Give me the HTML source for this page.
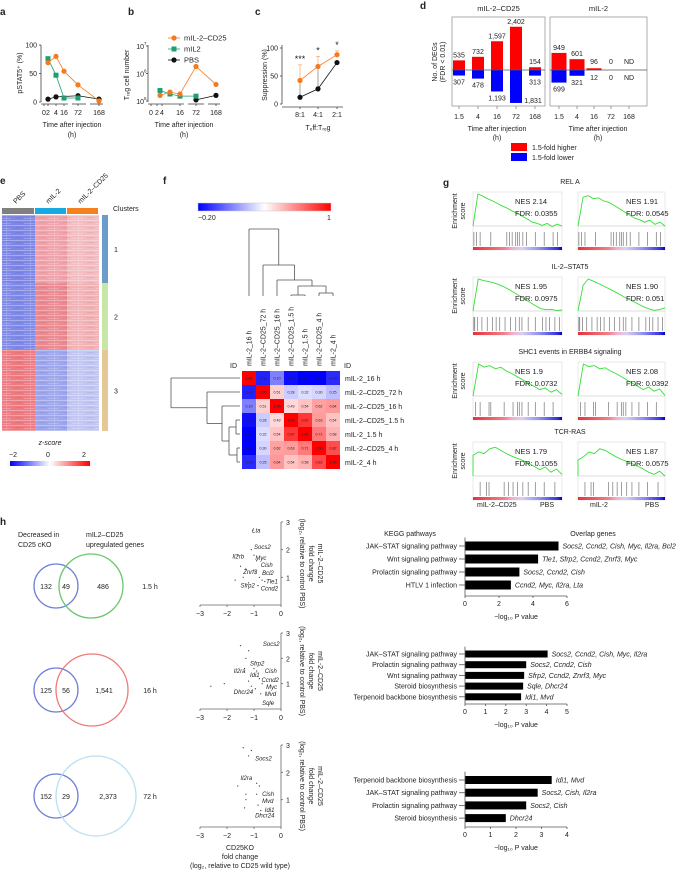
<!DOCTYPE html>
<html><head><meta charset="utf-8">
<style>
html,body{margin:0;padding:0;background:#fff;}
svg{display:block;font-family:"Liberation Sans",Arial,sans-serif;}
text{fill:#222;}
</style></head>
<body>
<svg id="fig" width="685" height="872" viewBox="0 0 685 872" xmlns="http://www.w3.org/2000/svg">
<defs>
<linearGradient id="gsea" x1="0" x2="1" y1="0" y2="0">
<stop offset="0" stop-color="#e8303a"/><stop offset="0.35" stop-color="#f08088"/><stop offset="0.45" stop-color="#f2b0d0"/><stop offset="0.55" stop-color="#d8d0f0"/><stop offset="0.75" stop-color="#8f8ff0"/><stop offset="0.95" stop-color="#3030e0"/><stop offset="1" stop-color="#0000c0"/>
</linearGradient>
<linearGradient id="corrbar" x1="0" x2="1"><stop offset="0" stop-color="#0000ff"/><stop offset="0.5" stop-color="#ffffff"/><stop offset="1" stop-color="#ff0000"/></linearGradient>
<linearGradient id="zbar" x1="0" x2="1"><stop offset="0" stop-color="#0000ff"/><stop offset="0.5" stop-color="#ffffff"/><stop offset="1" stop-color="#ff0000"/></linearGradient>
<pattern id="rowtex" width="24" height="5" patternUnits="userSpaceOnUse">
<rect x="0" y="0" width="24" height="1" fill="#fff" opacity="0.3"/>
<rect x="0" y="3" width="11" height="1" fill="#fff" opacity="0.2"/>
<rect x="6" y="0" width="1" height="5" fill="#fff" opacity="0.15"/>
<rect x="15" y="2" width="7" height="1" fill="#000" opacity="0.06"/>
</pattern>
</defs>
<g id="A"></g>
<g id="B"></g>
<g id="C"></g>
<g id="D"></g>
<g id="E"></g>
<g id="F"></g>
<g id="G"></g>
<g id="H"></g>
</svg>
<script>
// ---------- data ----------
const timeLabels=['0','2','4','16','72','168'];
const aCD25=[null,69,80,54,30,2];
const aIL2=[null,76,47,7,7,null];
const aPBS=[null,5,9,null,11,5];
const aTicks=[0,50,100];
const bCD25=[null,1.6e5,2.1e5,1.8e5,1.8e6,4e5];
const bIL2=[null,2.4e5,1.8e5,1.5e5,1.5e5,null];
const bPBS=[null,null,null,null,1.1e5,1.6e5];
const cCats=['8:1','4:1','2:1'];
const cCD25=[42,67,88];
const cCD25err=[70,85,95];
const cPBS=[12,27,74];
const cPBSerr=[37,62,78];
const cStars=['***','*','*'];
const dCats=['1.5','4','16','72','168'];
const dUpCD25=[535,732,1597,2402,154];
const dDownCD25=[307,478,1193,1831,313];
const dUpIL2=[949,601,96,0,null];
const dDownIL2=[699,321,12,0,null];
const fLabels=['mIL-2_16 h','mIL-2–CD25_72 h','mIL-2–CD25_16 h','mIL-2–CD25_1.5 h','mIL-2_1.5 h','mIL-2–CD25_4 h','mIL-2_4 h'];
const fMatrix=[
[1.00,-0.12,0.10,-0.17,-0.20,-0.20,-0.10],
[-0.12,1.00,0.51,0.28,0.32,0.30,0.25],
[0.10,0.51,1.00,0.49,0.54,0.62,0.64],
[-0.17,0.28,0.49,1.00,0.87,0.63,0.54],
[-0.20,0.32,0.54,0.87,1.00,0.71,0.58],
[-0.20,0.30,0.62,0.63,0.71,1.00,0.82],
[-0.10,0.25,0.64,0.54,0.58,0.82,1.00]];
const gTitles=['REL A','IL-2–STAT5','SHC1 events in ERBB4 signaling','TCR-RAS'];
const gNES=[['2.14','1.91'],['1.95','1.90'],['1.9','2.08'],['1.79','1.87']];
const gFDR=[['0.0355','0.0545'],['0.0975','0.051'],['0.0732','0.0392'],['0.1055','0.0575']];
const esRelA_L=[0,1,0.93,0.85,0.78,0.7,0.62,0.55,0.46,0.4,0.3,0.22,0.12,0.08,0.02,0.08,-0.02,0.06,0.0];
const esRelA_R=[0,0.9,0.95,0.85,0.88,0.78,0.74,0.65,0.55,0.45,0.35,0.25,0.2,0.12,0.18,0.05,0.12,0.0];
const esStat5_L=[0,1,0.95,0.92,0.88,0.82,0.75,0.66,0.56,0.46,0.36,0.26,0.16,0.07,0.04,0.05,0.02,0.03];
const esStat5_R=[0,0.8,1,0.93,0.86,0.78,0.7,0.62,0.53,0.44,0.36,0.28,0.2,0.12,0.06,0.02,0.05,0.1];
const esShc_L=[0,1,0.9,0.95,0.85,0.9,0.78,0.7,0.6,0.5,0.4,0.3,0.2,0.25,0.12,0.2,0.05];
const esShc_R=[0,1,0.92,0.95,0.85,0.88,0.78,0.7,0.6,0.5,0.4,0.3,0.2,0.28,0.15,0.22,0.02];
const esTcr_L=[0.65,0.75,0.7,0.85,0.9,0.8,0.7,0.62,0.55,0.48,0.4,0.3,0.2,0.28,0.12,0.22,0.05];
const esTcr_R=[0.5,0.6,0.75,0.7,0.85,0.8,0.7,0.6,0.52,0.45,0.38,0.3,0.22,0.12,0.05,0.15,0.0];
const barcode1=[0.01,0.04,0.08,0.2,0.38,0.41,0.44,0.48,0.5,0.52,0.56,0.6,0.7,0.8,0.9,0.95];
const barcode2=[0.01,0.02,0.05,0.1,0.16,0.22,0.26,0.3,0.36,0.42,0.48,0.52,0.55,0.62,0.7,0.78,0.82,0.86,0.92,0.97];
const barcode3=[0.03,0.08,0.18,0.2,0.35,0.45,0.5,0.52,0.55,0.62,0.7,0.8,0.9];
const barcode4=[0.08,0.15,0.18,0.35,0.4,0.45,0.5,0.56,0.62,0.7,0.8,0.92];
const vennDec=[132,125,152];
const vennOverlap=[49,56,29];
const vennUp=['486','1,541','2,373'];
const vennTimes=['1.5 h','16 h','72 h'];
const sc1x=[-1.1,-1.0,-0.9,-1.6,-1.3,-0.95,-0.8,-0.7,-1.4,-1.2,-0.6,-1.7,-1.5,-1.05,-0.85];
const sc1y=[2.0,1.8,1.6,1.8,1.3,1.2,1.0,0.9,1.0,0.8,0.85,0.9,1.4,2.7,0.7];
const sc1genes=['Lta','Socs2','Il2rb','Myc','Cish','Znrf3','Bcl2','Tle1','Sfrp2','Ccnd2'];
const sc1gx=[-1.07,-1.0,-1.8,-0.95,-0.75,-1.4,-0.7,-0.55,-1.5,-0.75];
const sc1gy=[2.7,2.1,1.75,1.7,1.45,1.2,1.15,0.85,0.7,0.6];
const sc2x=[-1.5,-1.2,-1.3,-1.0,-0.9,-1.2,-0.8,-0.7,-1.1,-0.95,-2.6,-2.1,-0.75,-1.35];
const sc2y=[2.5,2.3,2.0,1.6,1.5,1.1,1.2,1.0,0.9,0.8,0.9,1.0,0.6,1.6];
const sc2genes=['Socs2','Sfrp2','Il2ra','Cish','Idi1','Ccnd2','Myc','Dhcr24','Mvd','Sqle'];
const sc2gx=[-0.67,-1.15,-1.75,-0.6,-1.15,-0.72,-0.55,-1.75,-0.6,-0.7];
const sc2gy=[2.57,1.8,1.5,1.5,1.35,1.15,0.87,0.67,0.6,0.24];
const sc3x=[-1.4,-1.1,-1.2,-1.6,-0.9,-0.8,-1.3,-1.3,-0.85,-1.35,-0.75,-0.9];
const sc3y=[2.9,2.8,2.6,1.5,1.6,1.5,1.2,1.0,0.8,0.7,0.6,1.2];
const sc3genes=['Socs2','Il2ra','Cish','Mvd','Idi1','Dhcr24'];
const sc3gx=[-0.96,-1.5,-0.7,-0.7,-0.6,-0.96];
const sc3gy=[2.5,1.8,1.2,0.95,0.62,0.42];
const k1Names=['JAK–STAT signaling pathway','Wnt signaling pathway','Prolactin signaling pathway','HTLV 1 infection'];
const k1Vals=[5.5,4.3,3.2,2.7];
const k1Genes=['Socs2, Ccnd2, Cish, Myc, Il2ra, Bcl2','Tle1, Sfrp2, Ccnd2, Znrf3, Myc','Socs2, Ccnd2, Cish','Ccnd2, Myc, Il2ra, Lta'];
const k1Ticks=[0,2,4,6];
const k2Names=['JAK–STAT signaling pathway','Prolactin signaling pathway','Wnt signaling pathway','Steroid biosynthesis','Terpenoid backbone biosynthesis'];
const k2Vals=[4.05,3.0,2.9,2.85,2.75];
const k2Genes=['Socs2, Ccnd2, Cish, Myc, Il2ra','Socs2, Ccnd2, Cish','Sfrp2, Ccnd2, Znrf3, Myc','Sqle, Dhcr24','Idi1, Mvd'];
const k2Ticks=[0,1,2,3,4,5];
const k3Names=['Terpenoid backbone biosynthesis','JAK–STAT signaling pathway','Prolactin signaling pathway','Steroid biosynthesis'];
const k3Vals=[3.4,2.85,2.4,1.6];
const k3Genes=['Idi1, Mvd','Socs2, Cish, Il2ra','Socs2, Cish','Dhcr24'];
const k3Ticks=[0,1,2,3,4];

// ---------- helpers ----------
const NS='http://www.w3.org/2000/svg';
function mk(tag,attrs,parent){const e=document.createElementNS(NS,tag);for(const k in attrs)e.setAttribute(k,attrs[k]);parent.appendChild(e);return e;}
function tx(p,x,y,s,size,anchor,extra){const e=mk('text',Object.assign({x:x,y:y,'font-size':size||7,'text-anchor':anchor||'start'},extra||{}),p);e.textContent=s;return e;}
function ln(p,x1,y1,x2,y2,col,w){return mk('line',{x1:x1,y1:y1,x2:x2,y2:y2,stroke:col||'#444','stroke-width':w||0.8},p);}
const A=document.getElementById('A'),B=document.getElementById('B'),C=document.getElementById('C'),D=document.getElementById('D'),E=document.getElementById('E'),F=document.getElementById('F'),G=document.getElementById('G'),H=document.getElementById('H');
const ORANGE='#f47a20',GREEN='#1f9e72';
let el;

function panelLetter(p,x,y,s){
  el=tx(p,x,y,s,10,'start',{'font-weight':'bold'});
  
  
}
panelLetter(A,0,15,'a');panelLetter(B,128,15,'b');panelLetter(C,255,15,'c');panelLetter(D,420,9,'d');
panelLetter(E,0,184,'e');panelLetter(F,163,184,'f');panelLetter(G,443,186,'g');panelLetter(H,0,525,'h');

// time-course series drawing
function series(p,vals,xs,yf,col,shape,name){
  let pts=[];
  vals.forEach((v,i)=>{if(v!==null)pts.push([xs[i],yf(v)]);});
  el=mk('polyline',{points:pts.map(q=>q.join(',')).join(' '),fill:'none',stroke:col,'stroke-width':0.8},p);
  
  
  pts.forEach(q=>{
    if(shape==='sq') el=mk('rect',{x:q[0]-2.5,y:q[1]-2.5,width:5,height:5,fill:col},p);
    else el=mk('circle',{cx:q[0],cy:q[1],r:2.6,fill:col},p);
    
    
  });
}
function brokenX(p,x0,x1,y,xs,name){
  // axis with breaks
  const segs=[[x0,xs[3]+4],[xs[3]+8,xs[4]+8],[xs[4]+12,x1]];
  segs.forEach(s=>{el=ln(p,s[0],y,s[1],y);});
  xs.forEach((x,i)=>{el=ln(p,x,y,x,y+2);
    el=tx(p,x,y+11,timeLabels[i],7,'middle');});
}

// ---------- panel a ----------
const aX=[44,48,56,64,78,99];
const ya=v=>102-v*0.57;
el=ln(A,41,45,41,102);
aTicks.forEach(t=>{el=ln(A,39,ya(t),41,ya(t));
  el=tx(A,37,ya(t)+2.5,String(t),7,'end');});
brokenX(A,41,103,104,aX,'a-x');
el=tx(A,22,73,'pSTAT5⁺ (%)',7,'middle',{transform:'rotate(-90 22 73)'});
el=tx(A,72,127,'Time after injection',7,'middle');
el=tx(A,72,137,'(h)',7,'middle');
series(A,aPBS,aX,ya,'#111','c','a-pbs');
series(A,aIL2,aX,ya,GREEN,'sq','a-mil2');
series(A,aCD25,aX,ya,ORANGE,'c','a-mil2-cd25');

// ---------- panel b ----------
const bX=[151,160,170,180,196,216];
const yb=v=>101-(Math.log10(v)-5)*27.5;
el=ln(B,148,45,148,102);
[5,6,7].forEach(k=>{el=ln(B,146,yb(Math.pow(10,k)),148,yb(Math.pow(10,k)));
  el=tx(B,144,yb(Math.pow(10,k))+3,'10',7,'end');
  el=tx(B,144,yb(Math.pow(10,k))-1,String(k),4.5,'start');});
brokenX(B,148,220,104,[151,157,162,180,196,216],'b-x');
el=tx(B,129,73,'T',7,'middle',{transform:'rotate(-90 129 73)'});el.remove();
el=tx(B,129,75,'Tᵣₑg cell number',7,'middle',{transform:'rotate(-90 129 75)'});
el=tx(B,184,127,'Time after injection',7,'middle');
el=tx(B,184,137,'(h)',7,'middle');
series(B,bPBS,bX,yb,'#111','c','b-pbs');
series(B,bIL2,bX,yb,GREEN,'sq','b-mil2');
series(B,bCD25,bX,yb,ORANGE,'c','b-mil2-cd25');
[['mIL-2–CD25',ORANGE,'c',38],['mIL2',GREEN,'sq',49],['PBS','#111','c',60]].forEach(L=>{
  el=ln(B,168,L[3],180,L[3],L[1]);
  if(L[2]==='sq') el=mk('rect',{x:171.5,y:L[3]-2.5,width:5,height:5,fill:L[1]},B); else el=mk('circle',{cx:174,cy:L[3],r:2.6,fill:L[1]},B);
  
  el=tx(B,184,L[3]+2.5,L[0],7.5);
});

// ---------- panel c ----------
const cX=[300,318,337];
const yc=v=>104-v*0.56;
el=ln(C,282,45,282,104);
el=ln(C,282,107,343,107);
[0,50,100].forEach(t=>{el=ln(C,280,yc(t),282,yc(t));
  el=tx(C,278,yc(t)+2.5,String(t),7,'end');});
cCats.forEach((c,i)=>{el=ln(C,cX[i],107,cX[i],109);
  el=tx(C,cX[i],117,c,7,'middle');
  el=ln(C,cX[i],yc(cCD25[i]),cX[i],yc(cCD25err[i]),'#f9b07a');
  el=ln(C,cX[i]-2,yc(cCD25err[i]),cX[i]+2,yc(cCD25err[i]),'#f9b07a');
  el=ln(C,cX[i],yc(cPBS[i]),cX[i],yc(cPBSerr[i]),'#888');
  el=tx(C,cX[i],yc(cCD25err[i])-3,cStars[i],9,'middle');
});
series(C,cPBS,cX,yc,'#111','c','c-pbs');
series(C,cCD25,cX,yc,ORANGE,'c','c-mil2-cd25');
el=tx(C,267,75,'Suppression (%)',7,'middle',{transform:'rotate(-90 267 75)'});
el=tx(C,318,130,'Tₑff:Tᵣₑg',7,'middle');

// ---------- panel d ----------
const dXL=[459,478,497,516,535],dXR=[559,577,594,611,629];
const yUp=v=>70-v*0.018,yDn=v=>70+v*0.018;
function dBox(x0,x1,title,name){
  el=mk('rect',{x:x0,y:17,width:x1-x0,height:89,fill:'none',stroke:'#999','stroke-width':0.8},D);
  el=tx(D,(x0+x1)/2,11,title,7.5,'middle');
}
dBox(452,545,'mIL-2–CD25','d-cd25');dBox(550,647,'mIL-2','d-il2');
function dBars(xs,up,dn,w,name){
  dCats.forEach((c,i)=>{
    const x=xs[i];
    if(up[i]===null){el=tx(D,x,64,'ND',7,'middle');
      el=tx(D,x,80,'ND',7,'middle');}
    else{
      el=mk('rect',{x:x-w/2,y:yUp(up[i]),width:w,height:70-yUp(up[i]),fill:'#ff0000'},D);
      el=mk('rect',{x:x-w/2,y:70,width:w,height:yDn(dn[i])-70,fill:'#0000ff'},D);
      el=tx(D,x,Math.min(yUp(up[i])-3,64),up[i].toLocaleString('en-US'),7,'middle');
      const by=yDn(dn[i]);
      el=tx(D,by>98?x+17:x,Math.max(Math.min(by+9,103),80),dn[i].toLocaleString('en-US'),7,'middle');
    }
    el=tx(D,x,119,c,7,'middle');
    el=ln(D,x,106,x,109,'#888');
  });
}
dBars(dXL,dUpCD25,dDownCD25,12,'d-cd25');dBars(dXR,dUpIL2,dDownIL2,15,'d-il2');
el=ln(D,452,70,545,70,'#555');
el=ln(D,550,70,647,70,'#555');
el=tx(D,437,62,'No. of DEGs',7,'middle',{transform:'rotate(-90 437 62)'});
el=tx(D,445,62,'(FDR < 0.01)',7,'middle',{transform:'rotate(-90 445 62)'});
[[497,'d-cd25'],[598,'d-il2']].forEach(q=>{
  el=tx(D,q[0],131,'Time after injection',7,'middle');
  el=tx(D,q[0],140,'(h)',7,'middle');});
el=mk('rect',{x:511,y:143,width:16,height:8,fill:'#ff0000'},D);
el=tx(D,532,150,'1.5-fold higher',7);
el=mk('rect',{x:511,y:153,width:16,height:8,fill:'#0000ff'},D);
el=tx(D,532,160,'1.5-fold lower',7);

// ---------- panel e (heatmap) ----------
const eGroups=[['PBS',2,34,'#808080'],['mIL-2',35,66,'#1aa8e0'],['mIL-2–CD25',67,98,'#f7801e']];
const eClusters=[['1',215,283,'#6a9ec8','#7d86e6','#f0a3aa','#f3bcc0'],['2',283,350,'#c8e6a8','#7f8ae8','#ec8a92','#f2b2b6'],['3',350,431,'#e4c896','#ee7a82','#9ea6ee','#c2c6f2']];
eGroups.forEach(g=>{
  el=mk('rect',{x:g[1],y:208,width:g[2]-g[1],height:6,fill:g[3]},E);
  const cx=(g[1]+g[2])/2-2;
  el=tx(E,cx,204,g[0],7,'start',{transform:'rotate(-45 '+cx+' 204)'});
});
eClusters.forEach(c=>{
  eGroups.forEach((g,j)=>{
    el=mk('rect',{x:g[1],y:c[1],width:g[2]-g[1]+1,height:c[2]-c[1],fill:c[4+j]},E);
  });
  el=mk('rect',{x:102,y:c[1],width:6,height:c[2]-c[1],fill:c[3]},E);
  el=tx(E,114,(c[1]+c[2])/2+3,c[0],7);
});
el=mk('rect',{x:2,y:215,width:97,height:216,fill:'url(#rowtex)'},E);
el=tx(E,113,211,'Clusters',7);
el=tx(E,50,445,'z-score',7,'middle',{'font-style':'italic'});
el=mk('rect',{x:10,y:461,width:80,height:5,fill:'url(#zbar)'},E);
[[-2,13],[0,48],[2,84]].forEach(q=>{el=tx(E,q[1],457,q[0]===-2?'−2':String(q[0]),7,'middle');});

// ---------- panel f ----------
function corrColor(v){
  const t=Math.max(0,Math.min(1,(v+0.2)/1.2));const m=0.5;
  let r,g,b;
  if(t<m){const s=t/m;r=Math.round(255*s);g=Math.round(255*s);b=255;}
  else{const s=(t-m)/(1-m);r=255;g=Math.round(255*(1-s));b=Math.round(255*(1-s));}
  return 'rgb('+r+','+g+','+b+')';
}
const fx0=242,fy0=371,fc=14;
el=mk('rect',{x:198,y:203,width:133,height:8,fill:'url(#corrbar)',stroke:'#ccc','stroke-width':0.5},F);
el=tx(F,198,220,'−0.20',7);
el=tx(F,329,220,'1',7,'middle');
fMatrix.forEach((row,i)=>{
  row.forEach((v,j)=>{
    el=mk('rect',{x:fx0+j*fc,y:fy0+i*fc,width:fc,height:fc,fill:corrColor(v)},F);
    el=tx(F,fx0+j*fc+7,fy0+i*fc+8.5,v.toFixed(2).replace('-','−'),3.6,'middle');
  });
  el=tx(F,345,fy0+i*fc+10,fLabels[i],7);
  const cx=fx0+i*fc+9.5;
  el=tx(F,cx,366,fLabels[i],7,'start',{transform:'rotate(-90 '+cx+' 366)'});
});
el=tx(F,237,368,'ID',7,'end');
el=tx(F,344,368,'ID',7);
// dendrograms
function dendro(horizontal){
  const c=i=>horizontal?fy0+7+i*fc:fx0+7+i*fc;
  const leaf=horizontal?240:296;
  const nodes=[[c(3),c(4),horizontal?236:295],[c(5),c(6),horizontal?237:293]];
  const n45=(c(3)+c(4))/2,n67=(c(5)+c(6))/2;
  const h4567=horizontal?229:286,h3=horizontal?222:280,h2=horizontal?207:265,h1=horizontal?171:229;
  const n4567=(n45+n67)/2,n3=(c(2)+n4567)/2,n2=(c(1)+n3)/2;
  const segs=[];
  function link(a,ha,b,hb,h){segs.push([a,ha,a,h],[b,hb,b,h],[a,h,b,h]);}
  link(c(3),leaf,c(4),leaf,nodes[0][2]);
  link(c(5),leaf,c(6),leaf,nodes[1][2]);
  link(n45,nodes[0][2],n67,nodes[1][2],h4567);
  link(c(2),leaf,n4567,h4567,h3);
  link(c(1),leaf,n3,h3,h2);
  link(c(0),leaf,n2,h2,h1);
  segs.forEach(s=>{
    el=horizontal?ln(F,s[1],s[0],s[3],s[2],'#555'):ln(F,s[0],s[1],s[2],s[3],'#555');
    
    
  });
}
dendro(true);dendro(false);

// ---------- panel g ----------
const gCurves=[[esRelA_L,esRelA_R],[esStat5_L,esStat5_R],[esShc_L,esShc_R],[esTcr_L,esTcr_R]];
const gBarcodes=[barcode1,barcode2,barcode3,barcode4];
const gTitleY=[184,269,354,434];
const gPX=[[473,562],[578,665]];
gTitles.forEach((title,r)=>{
  const ty=gTitleY[r];
  el=tx(G,520+50,ty,title,7,'middle');
  const top=ty+8,bot=ty+46;
  el=tx(G,457,top+19,'Enrichment',7,'middle',{transform:'rotate(-90 457 '+(top+19)+')'});
  el=tx(G,465,top+19,'score',7,'middle',{transform:'rotate(-90 465 '+(top+19)+')'});
  gPX.forEach((px,k)=>{
    const x0=px[0],x1=px[1];
    el=mk('rect',{x:x0,y:top,width:x1-x0,height:bot-top+20,fill:'none',stroke:'#ddd','stroke-width':0.6},G);
    const base=bot-4;
    el=ln(G,x0,base,x1,base,'#bbb',0.6);
    const es=gCurves[r][k];
    const pts=es.map((v,i)=>[x0+(x1-x0)*i/(es.length-1),base-v*(base-top-2)]);
    pts.unshift([x0,base]);
    el=mk('polyline',{points:pts.map(q=>q[0].toFixed(1)+','+q[1].toFixed(1)).join(' '),fill:'none',stroke:'#33e033','stroke-width':0.9},G);
    gBarcodes[r].forEach(f=>{const bx=x0+(x1-x0)*f;el=ln(G,bx,bot+2,bx,bot+16,'#777',0.7);});
    el=mk('rect',{x:x0,y:bot+17,width:x1-x0,height:3,fill:'url(#gsea)'},G);
    el=tx(G,x0+(k?48:42),top+12,'NES '+gNES[r][k],7.5);
    el=tx(G,x0+(k?48:42),top+24,'FDR: '+gFDR[r][k],7.5);
  });
});
[[477,'mIL-2–CD25'],[540,'PBS'],[590,'mIL-2'],[645,'PBS']].forEach(q=>{el=tx(G,q[0],507,q[1],7);});

// ---------- panel h: venn ----------
const vCY=[586,690,796];
const vBig=[[91,32,'#6cc66c'],[92,36,'#ee7a7a'],[96,40,'#b8e0f4']];
el=tx(H,18,537,'Decreased in',7);
el=tx(H,18,547,'CD25 cKO',7);
el=tx(H,86,537,'mIL2–CD25',7);
el=tx(H,86,547,'upregulated genes',7);
vennDec.forEach((n,i)=>{
  const cy=vCY[i];
  el=mk('circle',{cx:56,cy:cy,r:22,fill:'none',stroke:'#7080d8','stroke-width':1.3},H);
  el=mk('circle',{cx:vBig[i][0],cy:cy,r:vBig[i][1],fill:'none',stroke:vBig[i][2],'stroke-width':1.3},H);
  el=tx(H,46,cy+3,String(n),7,'middle');
  el=tx(H,66,cy+3,String(vennOverlap[i]),7,'middle');
  el=tx(H,vBig[i][0]+12,cy+3,vennUp[i],7,'middle');
  el=tx(H,150,cy+3,vennTimes[i],7,'middle');
});
// scatter plots
const scRows=[[sc1x,sc1y,sc1genes,sc1gx,sc1gy,522,605],[sc2x,sc2y,sc2genes,sc2gx,sc2gy,633,709],[sc3x,sc3y,sc3genes,sc3gx,sc3gy,745,827]];
const sxf=v=>281+v*27;
scRows.forEach(R=>{
  const y3=R[5],y0=R[6],syf=v=>y0-(y0-y3)*v/3;
  el=ln(H,200,y0,281,y0,'#666');
  el=ln(H,281,y3,281,y0,'#666');
  [-3,-2,-1,0].forEach(t=>{el=ln(H,sxf(t),y0,sxf(t),y0+2,'#666');
    el=tx(H,sxf(t),y0+11,t<0?'−'+(-t):'0',7,'middle');});
  [1,2,3].forEach(t=>{el=ln(H,281,syf(t),283,syf(t),'#666');
    el=tx(H,286,syf(t)+3,String(t),7);});
  R[0].forEach((x,i)=>{el=mk('circle',{cx:sxf(x),cy:syf(R[1][i]),r:0.6,fill:'#333'},H);});
  R[2].forEach((g,i)=>{el=tx(H,sxf(R[3][i]),syf(R[4][i])+2,g,6,'start',{'font-style':'italic'});});
  const my=(y3+y0)/2;
  [[318,'mIL-2–CD25'],[309,'fold change'],[300,'(log₂, relative to control PBS)']].forEach(q=>{
    el=tx(H,q[0],my,q[1],7,'middle',{transform:'rotate(90 '+q[0]+' '+my+')'});});
});
[[850,'CD25KO'],[859,'fold change'],[868,'(log₂, relative to CD25 wild type)']].forEach(q=>{el=tx(H,240,q[0],q[1],7,'middle');});
// KEGG bars
function kegg(names,vals,genes,ticks,yStart,step,bh,axisY,name){
  const x0=465,per=102/ticks[ticks.length-1];
  names.forEach((n,i)=>{
    const cy=yStart+i*step;
    el=mk('rect',{x:x0,y:cy-bh/2,width:vals[i]*per,height:bh,fill:'#000'},H);
    el=tx(H,457,cy+2.5,n,7,'end');
    el=ln(H,459,cy,x0,cy,'#555');
    el=tx(H,x0+vals[i]*per+4,cy+2.5,genes[i],7,'start',{'font-style':'italic'});
  });
  el=ln(H,x0,yStart-step/2-2,x0,axisY,'#555');
  el=ln(H,x0,axisY,x0+102,axisY,'#555');
  ticks.forEach(t=>{el=ln(H,x0+t*per,axisY,x0+t*per,axisY+2,'#555');
    el=tx(H,x0+t*per,axisY+10,String(t),7,'middle');});
  el=tx(H,x0+51,axisY+23,'−log₁₀ P value',7,'middle');
}
el=tx(H,410,536,'KEGG pathways',7,'middle');
el=tx(H,593,536,'Overlap genes',7,'middle');
kegg(k1Names,k1Vals,k1Genes,k1Ticks,546,13,9,596,'h-kegg-1-5h');
kegg(k2Names,k2Vals,k2Genes,k2Ticks,654,10.7,7,704,'h-kegg-16h');
kegg(k3Names,k3Vals,k3Genes,k3Ticks,780,12.7,8,827,'h-kegg-72h');
</script>
</body></html>
